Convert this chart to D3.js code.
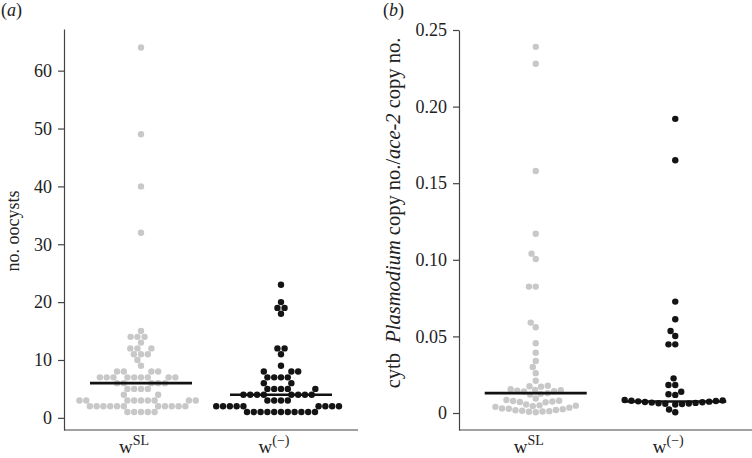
<!DOCTYPE html>
<html>
<head>
<meta charset="utf-8">
<script src="https://cdn.jsdelivr.net/npm/d3@7"></script>
<style>
  body { margin: 0; background: #fff; }
  svg { display: block; }
  svg text { font-family: "Liberation Serif", "Times New Roman", Tinos, "Nimbus Roman", Times, serif; }
  .axis path, .axis line { stroke: #444; stroke-width: 1.2; }
  .axis text { fill: #222; font-size: 18px; }
</style>
</head>
<body>
<svg id="chart" width="752" height="458"></svg>
<script>
// categories
const groups = ['wSL', 'wMinus'];

// panel (a): number of oocysts per midgut
const oocystsWSL = [
  1, 1, 1, 1, 1,
  2, 2, 2, 2, 2, 2, 2, 2, 2, 2, 2,
  3, 3, 3, 3, 3, 3, 3, 3, 3,
  4, 4,
  5, 5, 5, 5,
  6, 6, 6, 6, 6,
  7, 7, 7, 7, 7, 7, 7, 7, 7,
  8, 8, 8, 8,
  9, 10, 11, 11, 11, 12, 12, 12, 13, 14, 14, 14, 15,
  32, 40, 49, 64
];
const oocystsWMinus = [
  1, 1, 1, 1, 1, 1, 1, 1, 1, 1, 1,
  2, 2, 2, 2, 2, 2, 2, 2, 2,
  3, 3, 3, 3,
  4, 4, 4, 4, 4, 4, 4, 4,
  5, 5, 5, 5, 5,
  6, 6,
  7, 7, 7, 7,
  8, 8, 8,
  9, 11, 12, 12, 18, 19, 19, 20, 23
];
const oocystsMedian = [6, 4];
const oocystsTicks = [0, 10, 20, 30, 40, 50, 60];

// panel (b): cytb Plasmodium copy no. / ace-2 copy no.
const qpcrWSL = [
  0.239, 0.228, 0.158, 0.117, 0.104, 0.1005, 0.0825, 0.0825, 0.059, 0.056,
  0.0455, 0.0394, 0.034, 0.030, 0.026, 0.021, 0.0178, 0.0175, 0.0172, 0.0155,
  0.015, 0.0148, 0.0145, 0.0142, 0.014, 0.013, 0.0125, 0.012, 0.0095, 0.0085,
  0.008, 0.0078, 0.0075, 0.0072, 0.007, 0.0055, 0.005, 0.0048, 0.0045, 0.004,
  0.0035, 0.003, 0.0028, 0.0025, 0.002, 0.0018, 0.0015, 0.0012, 0.001, 0.0008,
  0.0005
];
const qpcrWMinus = [
  0.192, 0.165, 0.0727, 0.0612, 0.0535, 0.0503, 0.0448, 0.0448, 0.0226, 0.0183,
  0.0183, 0.0139, 0.0122, 0.0118,
  0.0085, 0.0082, 0.008, 0.0078, 0.0076, 0.0074, 0.0072, 0.007, 0.0068, 0.0066,
  0.0064, 0.0062, 0.006, 0.0058, 0.0055,
  0.0023, 0.0005
];
const qpcrMedian = [0.013, 0.0075];
const qpcrTicks = [0, 0.05, 0.10, 0.15, 0.20, 0.25];

const colors = { wSL: '#c8c8c8', wMinus: '#141414' };
const dotR = 3.2;
const gap = 6.8; // minimal centre distance in the swarm

const svg = d3.select('#chart');

// simple "swarm" layout: ascending order, each point as close to the centre as possible
function swarm(values, y) {
  const pts = values.map((v) => ({ v, y: y(v), x: 0 })).sort((a, b) => a.v - b.v);
  const placed = [];
  pts.forEach((p) => {
    const cand = [0];
    placed.forEach((q) => {
      const dy = Math.abs(q.y - p.y);
      if (dy < gap) {
        const dx = Math.sqrt(gap * gap - dy * dy);
        cand.push(q.x + dx, q.x - dx);
      }
    });
    cand.sort((a, b) => Math.abs(a) - Math.abs(b) || a - b);
    for (const c of cand) {
      const ok = placed.every((q) => (q.x - c) ** 2 + (q.y - p.y) ** 2 >= gap * gap - 1e-6);
      if (ok) { p.x = c; break; }
    }
    placed.push(p);
  });
  return pts;
}

function panel(opt) {
  const g = svg.append('g');

  const x = d3.scalePoint().domain(groups).range(opt.xRange).padding(0.55);
  const y = d3.scaleLinear().domain(opt.yDomain).range([430, opt.yTop]);

  const yAxis = d3.axisLeft(y)
    .tickValues(opt.ticks)
    .tickSize(6)
    .tickSizeOuter(0)
    .tickPadding(6)
    .tickFormat(opt.fmt);

  const ya = g.append('g')
    .attr('class', 'axis')
    .attr('transform', `translate(${opt.xRange[0]},0)`)
    .call(yAxis);
  ya.attr('font-family', null);

  g.append('g')
    .attr('class', 'axis')
    .attr('transform', 'translate(0,430)')
    .call(d3.axisBottom(x).tickSize(0).tickSizeOuter(0).tickFormat(''))
    .select('.domain')
    .attr('d', `M${opt.xRange[0]},0H${opt.xRange[1]}`);

  // category labels with superscripts
  const labs = [['w', 'SL'], ['w', '(\u2212)']];
  groups.forEach((k, i) => {
    const t = g.append('text')
      .attr('x', x(k) - 7)
      .attr('y', 453)
      .attr('text-anchor', 'middle')
      .attr('font-size', 19)
      .attr('fill', '#222');
    t.append('tspan').text(labs[i][0]);
    t.append('tspan').attr('dy', -8).attr('font-size', 14).text(labs[i][1]);
  });

  // dots
  opt.series.forEach((vals, i) => {
    const k = groups[i];
    const pts = swarm(vals, y);
    g.append('g')
      .selectAll('circle')
      .data(pts)
      .join('circle')
      .attr('cx', (d) => x(k) + d.x)
      .attr('cy', (d) => d.y)
      .attr('r', dotR)
      .attr('fill', colors[k]);
  });

  // median bars
  g.append('g')
    .selectAll('line')
    .data(opt.medians)
    .join('line')
    .attr('x1', (d, i) => x(groups[i]) - 51)
    .attr('x2', (d, i) => x(groups[i]) + 51)
    .attr('y1', (d) => y(d))
    .attr('y2', (d) => y(d))
    .attr('stroke', '#111')
    .attr('stroke-width', 2.6);

  return g;
}

panel({
  xRange: [64, 358],
  yDomain: [-2.1, 67.2],
  yTop: 29,
  ticks: oocystsTicks,
  fmt: d3.format('d'),
  series: [oocystsWSL, oocystsWMinus],
  medians: oocystsMedian
});

panel({
  xRange: [459, 752],
  yDomain: [-0.0111, 0.25],
  yTop: 30,
  ticks: qpcrTicks,
  fmt: (d) => (d === 0 ? '0' : d3.format('.2f')(d)),
  series: [qpcrWSL, qpcrWMinus],
  medians: qpcrMedian
});

// panel letters
[['(', 'a', ')', 1], ['(', 'b', ')', 383]].forEach((p) => {
  const t = svg.append('text').attr('x', p[3]).attr('y', 16)
    .attr('font-size', 18).attr('fill', '#222');
  t.append('tspan').text(p[0]);
  t.append('tspan').attr('font-style', 'italic').text(p[1]);
  t.append('tspan').text(p[2]);
});

// y axis titles
svg.append('text')
  .attr('transform', 'translate(19,231) rotate(-90)')
  .attr('text-anchor', 'middle')
  .attr('font-size', 18)
  .attr('fill', '#222')
  .text('no. oocysts');

const tb = svg.append('text')
  .attr('transform', 'translate(400,213) rotate(-90)')
  .attr('text-anchor', 'middle')
  .attr('font-size', 20.5)
  .attr('fill', '#222')
  .attr('xml:space', 'preserve');
tb.append('tspan').text('cytb\u00a0 ');
tb.append('tspan').attr('font-style', 'italic').text('Plasmodium');
tb.append('tspan').text(' copy no./');
tb.append('tspan').attr('font-style', 'italic').text('ace-2');
tb.append('tspan').text(' copy no.');
</script>
</body>
</html>
